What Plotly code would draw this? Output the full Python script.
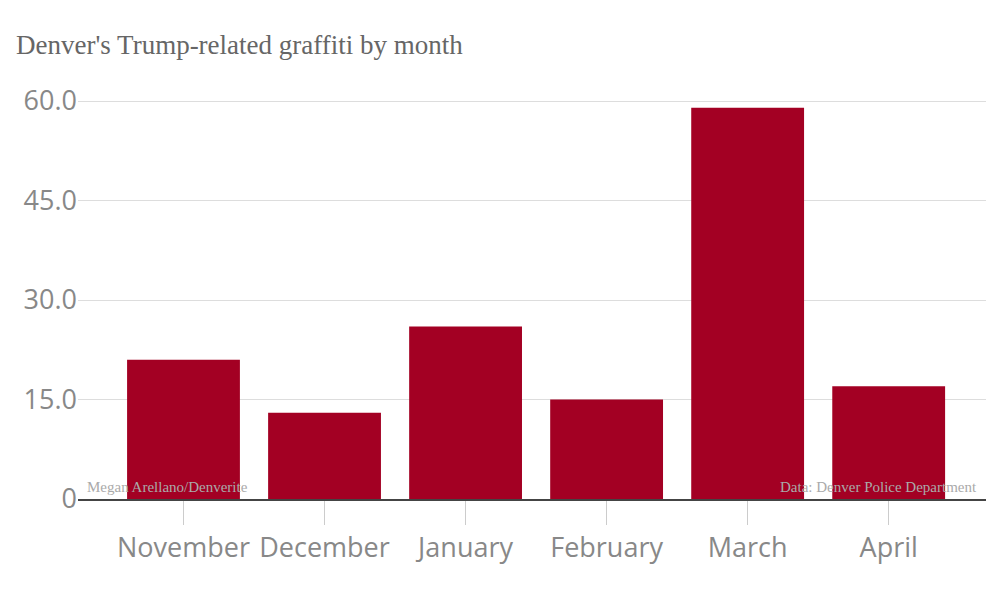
import plotly.graph_objects as go

months = ["November", "December", "January", "February", "March", "April"]
counts = [21, 13, 26, 15, 59, 17]
y_ticks = [0, 15, 30, 45, 60]
y_labels = ["0", "15.0", "30.0", "45.0", "60.0"]

fig = go.Figure(go.Bar(x=list(range(len(months))), y=counts, width=0.8,
                       marker_color="#a30023", marker_line_width=0))

fig.update_layout(
    width=1000, height=606, plot_bgcolor="white", paper_bgcolor="white",
    margin=dict(l=70, r=22, t=80, b=115), showlegend=False,
    font=dict(family="Open Sans, Roboto, sans-serif", color="#888"),
    title=dict(text="Denver's Trump-related graffiti by month", x=0.008, xanchor="left",
               y=0.955, font=dict(family="Liberation Serif, serif", size=27, color="#666")),
)
fig.update_xaxes(tickvals=list(range(len(months))), ticktext=months, range=[-0.748, 5.69],
                 ticks="outside", ticklen=24, tickcolor="#ccc", tickfont=dict(size=27, color="#888"),
                 showgrid=False, showline=True, linecolor="#444", linewidth=1.5)
fig.update_yaxes(tickvals=y_ticks, ticktext=y_labels, range=[0, 61.96],
                 tickfont=dict(size=27, color="#888"), gridcolor="#ddd", zeroline=False,
                 ticks="", showline=False)
fig.add_annotation(text="Megan Arellano/Denverite", x=0.008, y=0.005, xref="paper", yref="paper",
                   xanchor="left", yanchor="bottom", showarrow=False,
                   font=dict(family="Liberation Serif, serif", size=15, color="#aaa"))
fig.add_annotation(text="Data: Denver Police Department", x=0.992, y=0.005, xref="paper", yref="paper",
                   xanchor="right", yanchor="bottom", showarrow=False,
                   font=dict(family="Liberation Serif, serif", size=15, color="#aaa"))
fig.write_html("out.html")
